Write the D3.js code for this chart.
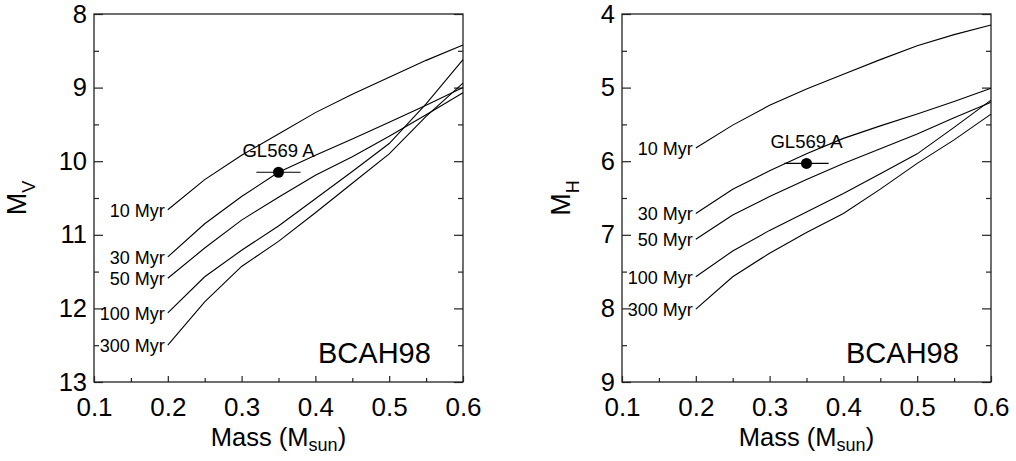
<!DOCTYPE html>
<html>
<head>
<meta charset="utf-8">
<script src="https://cdn.jsdelivr.net/npm/d3@7"></script>
<style>
  body { margin: 0; background: #fff; }
  svg { font-family: "Liberation Sans", Arial, sans-serif; }
  .frame { fill: none; stroke: #222; stroke-width: 1.3; }
  .tick line { stroke: #222; stroke-width: 1.2; }
  .curve { fill: none; stroke: #000; stroke-width: 1.1; }
</style>
</head>
<body>
<script>
// isochrone masses (Msun) and ages
var masses = [0.2, 0.25, 0.3, 0.35, 0.4, 0.45, 0.5, 0.55, 0.6];
var ages = ["10 Myr", "30 Myr", "50 Myr", "100 Myr", "300 Myr"];

// absolute V magnitude along each isochrone (BCAH98)
var mvValues = [
  [10.66, 10.25, 9.92, 9.63, 9.34, 9.09, 8.86, 8.63, 8.42],
  [11.30, 10.85, 10.48, 10.15, 9.92, 9.70, 9.47, 9.24, 9.00],
  [11.59, 11.18, 10.80, 10.49, 10.19, 9.94, 9.66, 9.37, 9.07],
  [12.06, 11.57, 11.21, 10.88, 10.51, 10.14, 9.76, 9.22, 8.62],
  [12.50, 11.91, 11.43, 11.09, 10.70, 10.30, 9.90, 9.39, 8.94]
];

// absolute H magnitude along each isochrone (BCAH98)
var mhValues = [
  [5.82, 5.51, 5.24, 5.02, 4.82, 4.62, 4.43, 4.28, 4.15],
  [6.71, 6.38, 6.13, 5.90, 5.69, 5.52, 5.36, 5.19, 5.01],
  [7.06, 6.73, 6.48, 6.25, 6.03, 5.83, 5.63, 5.41, 5.20],
  [7.57, 7.22, 6.94, 6.69, 6.44, 6.17, 5.90, 5.54, 5.17],
  [8.01, 7.57, 7.25, 6.97, 6.71, 6.38, 6.03, 5.71, 5.36]
];

// GL569 A
var starName = "GL569 A";
var starMass = 0.35, starMassErr = 0.03;
var starMV = 10.15, starMH = 6.03;

// ticks
var massTicks = [0.1, 0.2, 0.3, 0.4, 0.5, 0.6];
var massMinor = [0.15, 0.25, 0.35, 0.45, 0.55];
var mvTicks = [8, 9, 10, 11, 12, 13];
var mhTicks = [4, 5, 6, 7, 8, 9];
var modelName = "BCAH98";

var W = 1016, H = 461;
var svg = d3.select("body").append("svg")
  .attr("width", W)
  .attr("height", H);

drawPanel({left: 94, band: "V", values: mvValues, ticks: mvTicks, star: starMV, titleX: -68});
drawPanel({left: 622, band: "H", values: mhValues, ticks: mhTicks, star: starMH, titleX: -52});

function drawPanel(cfg) {
  var top = 14, w = 369, h = 368;
  var g = svg.append("g").attr("transform", "translate(" + cfg.left + "," + top + ")");

  var x = d3.scaleLinear().domain([0.1, 0.6]).range([0, w]);
  var y = d3.scaleLinear().domain([cfg.ticks[0], cfg.ticks[cfg.ticks.length - 1]]).range([0, h]);

  var minorY = cfg.ticks.slice(0, -1).map(function(d){ return d + 0.5; });

  // bottom axis, ticks inward
  var xAx = g.append("g").attr("transform", "translate(0," + h + ")")
    .call(d3.axisBottom(x).tickValues(massTicks).tickSizeInner(-6).tickSizeOuter(0)
      .tickFormat(d3.format(".1f")).tickPadding(16));
  g.append("g").attr("transform", "translate(0," + h + ")")
    .call(d3.axisBottom(x).tickValues(massMinor).tickSizeInner(-4).tickSizeOuter(0).tickFormat(""));

  // left axis
  var yAx = g.append("g")
    .call(d3.axisLeft(y).tickValues(cfg.ticks).tickSizeInner(-9).tickSizeOuter(0)
      .tickFormat(d3.format("d")).tickPadding(7));
  g.append("g")
    .call(d3.axisLeft(y).tickValues(minorY).tickSizeInner(-5).tickSizeOuter(0).tickFormat(""));

  // right axis
  g.append("g").attr("transform", "translate(" + w + ",0)")
    .call(d3.axisRight(y).tickValues(cfg.ticks).tickSizeInner(-9).tickSizeOuter(0).tickFormat(""));
  g.append("g").attr("transform", "translate(" + w + ",0)")
    .call(d3.axisRight(y).tickValues(minorY).tickSizeInner(-5).tickSizeOuter(0).tickFormat(""));

  g.selectAll(".domain").remove();

  xAx.selectAll("text")
    .attr("font-size", 26)
    .attr("fill", "#000")
    .attr("font-family", "Liberation Sans, Arial, sans-serif");
  yAx.selectAll("text")
    .attr("font-size", 25.5)
    .attr("fill", "#000")
    .attr("font-family", "Liberation Sans, Arial, sans-serif");

  g.append("rect").attr("class", "frame")
    .attr("width", w).attr("height", h);

  // isochrones
  var line = d3.line()
    .x(function(d, i){ return x(masses[i]); })
    .y(function(d){ return y(d); });

  g.selectAll(".curve")
    .data(cfg.values)
    .enter()
    .append("path")
    .attr("class", "curve")
    .attr("d", line);

  // age labels at the low mass end
  g.selectAll(".agelab")
    .data(cfg.values)
    .enter()
    .append("text")
    .attr("class", "agelab")
    .attr("x", x(masses[0]) - 3)
    .attr("y", function(d){ return y(d[0]) + 7; })
    .attr("text-anchor", "end")
    .attr("font-size", 18)
    .text(function(d, i){ return ages[i]; });

  // the star with its mass error bar
  g.append("line")
    .attr("x1", x(starMass - starMassErr))
    .attr("x2", x(starMass + starMassErr))
    .attr("y1", y(cfg.star))
    .attr("y2", y(cfg.star))
    .attr("stroke", "#000")
    .attr("stroke-width", 1.1);
  g.append("circle")
    .attr("cx", x(starMass))
    .attr("cy", y(cfg.star))
    .attr("r", 5.5)
    .attr("fill", "#000");
  g.append("text")
    .attr("x", x(starMass))
    .attr("y", y(cfg.star) - 15)
    .attr("text-anchor", "middle")
    .attr("font-size", 18.5)
    .text(starName);

  // model name
  g.append("text")
    .attr("x", x(0.48))
    .attr("y", y(cfg.ticks[0] + 4.74))
    .attr("text-anchor", "middle")
    .attr("font-size", 29)
    .text(modelName);

  // x title
  var xt = g.append("text")
    .attr("x", w / 2)
    .attr("y", h + 64)
    .attr("text-anchor", "middle")
    .attr("font-size", 25.5);
  xt.append("tspan").text("Mass (M");
  xt.append("tspan").attr("font-size", 18).attr("dy", 5).text("sun");
  xt.append("tspan").attr("dy", -5).text(")");

  // y title
  var yt = g.append("text")
    .attr("transform", "translate(" + cfg.titleX + "," + (h / 2) + ") rotate(-90)")
    .attr("text-anchor", "middle")
    .attr("font-size", 27);
  yt.append("tspan").text("M");
  yt.append("tspan").attr("font-size", 18).attr("dy", 9).text(cfg.band);
}
</script>
</body>
</html>
